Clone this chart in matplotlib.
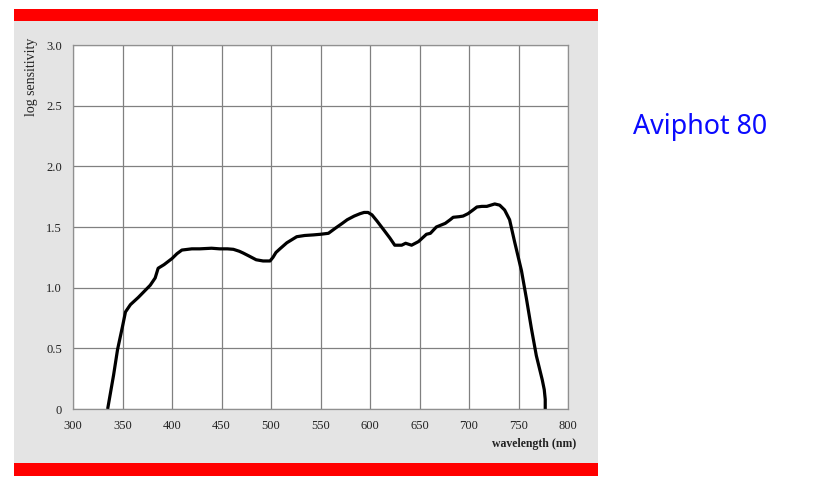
import matplotlib
matplotlib.use("Agg")
import matplotlib.pyplot as plt
from matplotlib.patches import Rectangle

# curve
wavelength = [335, 341, 345, 350, 353, 358, 366, 372, 378, 383, 386, 392,
              400, 405, 410, 420, 428, 440, 448, 456, 462, 468, 472, 478,
              485, 492, 499, 502, 505, 509, 516, 526, 534, 543, 550, 558,
              565, 572, 577, 584, 590, 594, 598, 602, 607, 614, 620, 625,
              632, 636, 642, 649, 653, 657, 661, 667, 676, 681, 684, 690,
              694, 699, 704, 708, 713, 718, 722, 726, 731, 736, 741, 746,
              753, 758, 763, 768, 774, 776, 777, 777]
sensitivity = [0.0, 0.28, 0.49, 0.68, 0.80, 0.86, 0.92, 0.97, 1.02, 1.08,
               1.16, 1.19, 1.24, 1.28, 1.31, 1.32, 1.32, 1.325, 1.32, 1.32,
               1.316, 1.30, 1.285, 1.26, 1.23, 1.22, 1.22, 1.25, 1.29, 1.32,
               1.37, 1.42, 1.43, 1.435, 1.44, 1.448, 1.49, 1.53, 1.56, 1.59,
               1.61, 1.62, 1.62, 1.60, 1.55, 1.475, 1.41, 1.35, 1.35, 1.366,
               1.35, 1.38, 1.41, 1.44, 1.448, 1.50, 1.53, 1.56, 1.58, 1.585,
               1.59, 1.61, 1.64, 1.665, 1.67, 1.67, 1.68, 1.69, 1.68, 1.64,
               1.56, 1.38, 1.14, 0.91, 0.665, 0.44, 0.24, 0.16, 0.08, 0.0]

x_ticks = [300, 350, 400, 450, 500, 550, 600, 650, 700, 750, 800]
y_ticks = [0, 0.5, 1.0, 1.5, 2.0, 2.5, 3.0]
y_labels = ["0", "0.5", "1.0", "1.5", "2.0", "2.5", "3.0"]

W, H = 839, 490
fig = plt.figure(figsize=(W / 100, H / 100), dpi=100)
fig.patch.set_facecolor("white")

# grey panel and the two red bars
def band(y0, y1, color):
    fig.patches.append(Rectangle((14 / W, 1 - y1 / H), (598 - 14) / W, (y1 - y0) / H,
                                 transform=fig.transFigure, facecolor=color,
                                 edgecolor="none", zorder=-5))

band(21, 463, "#e4e4e4")
band(9, 21.5, "#ff0000")
band(463, 476, "#ff0000")

ax = fig.add_axes([73 / W, 1 - 409 / H, (568 - 73) / W, (409 - 45) / H])
ax.set_zorder(2)
ax.set_facecolor("white")
ax.plot(wavelength, sensitivity, color="black", lw=2.3, solid_capstyle="butt")

ax.set_xlim(300, 800)
ax.set_ylim(0, 3.0)
ax.set_xticks(x_ticks)
ax.set_yticks(y_ticks)
ax.set_yticklabels(y_labels)
ax.grid(True, color="#808080", lw=0.9)
ax.set_axisbelow(True)
for s in ax.spines.values():
    s.set_color("#909090")
    s.set_linewidth(0.9)
ax.tick_params(length=0, labelsize=9, labelcolor="#222222", pad=8)
for lab in ax.get_xticklabels() + ax.get_yticklabels():
    lab.set_family("Liberation Serif")

fig.text(32 / W, 1 - 38 / H, "log sensitivity", rotation=90, ha="center", va="top",
         family="Liberation Serif", fontsize=10, color="#222222")
fig.text(576 / W, 1 - 444 / H, "wavelength (nm)", ha="right", va="center",
         family="Liberation Serif", fontsize=8.5, fontweight="bold", color="#222222")

fig.text(700 / W, 1 - 127 / H, "Aviphot 80", ha="center", va="center",
         family="Noto Sans", fontsize=19.3, color="#0a0aff")

fig.savefig("out.png", dpi=100)
